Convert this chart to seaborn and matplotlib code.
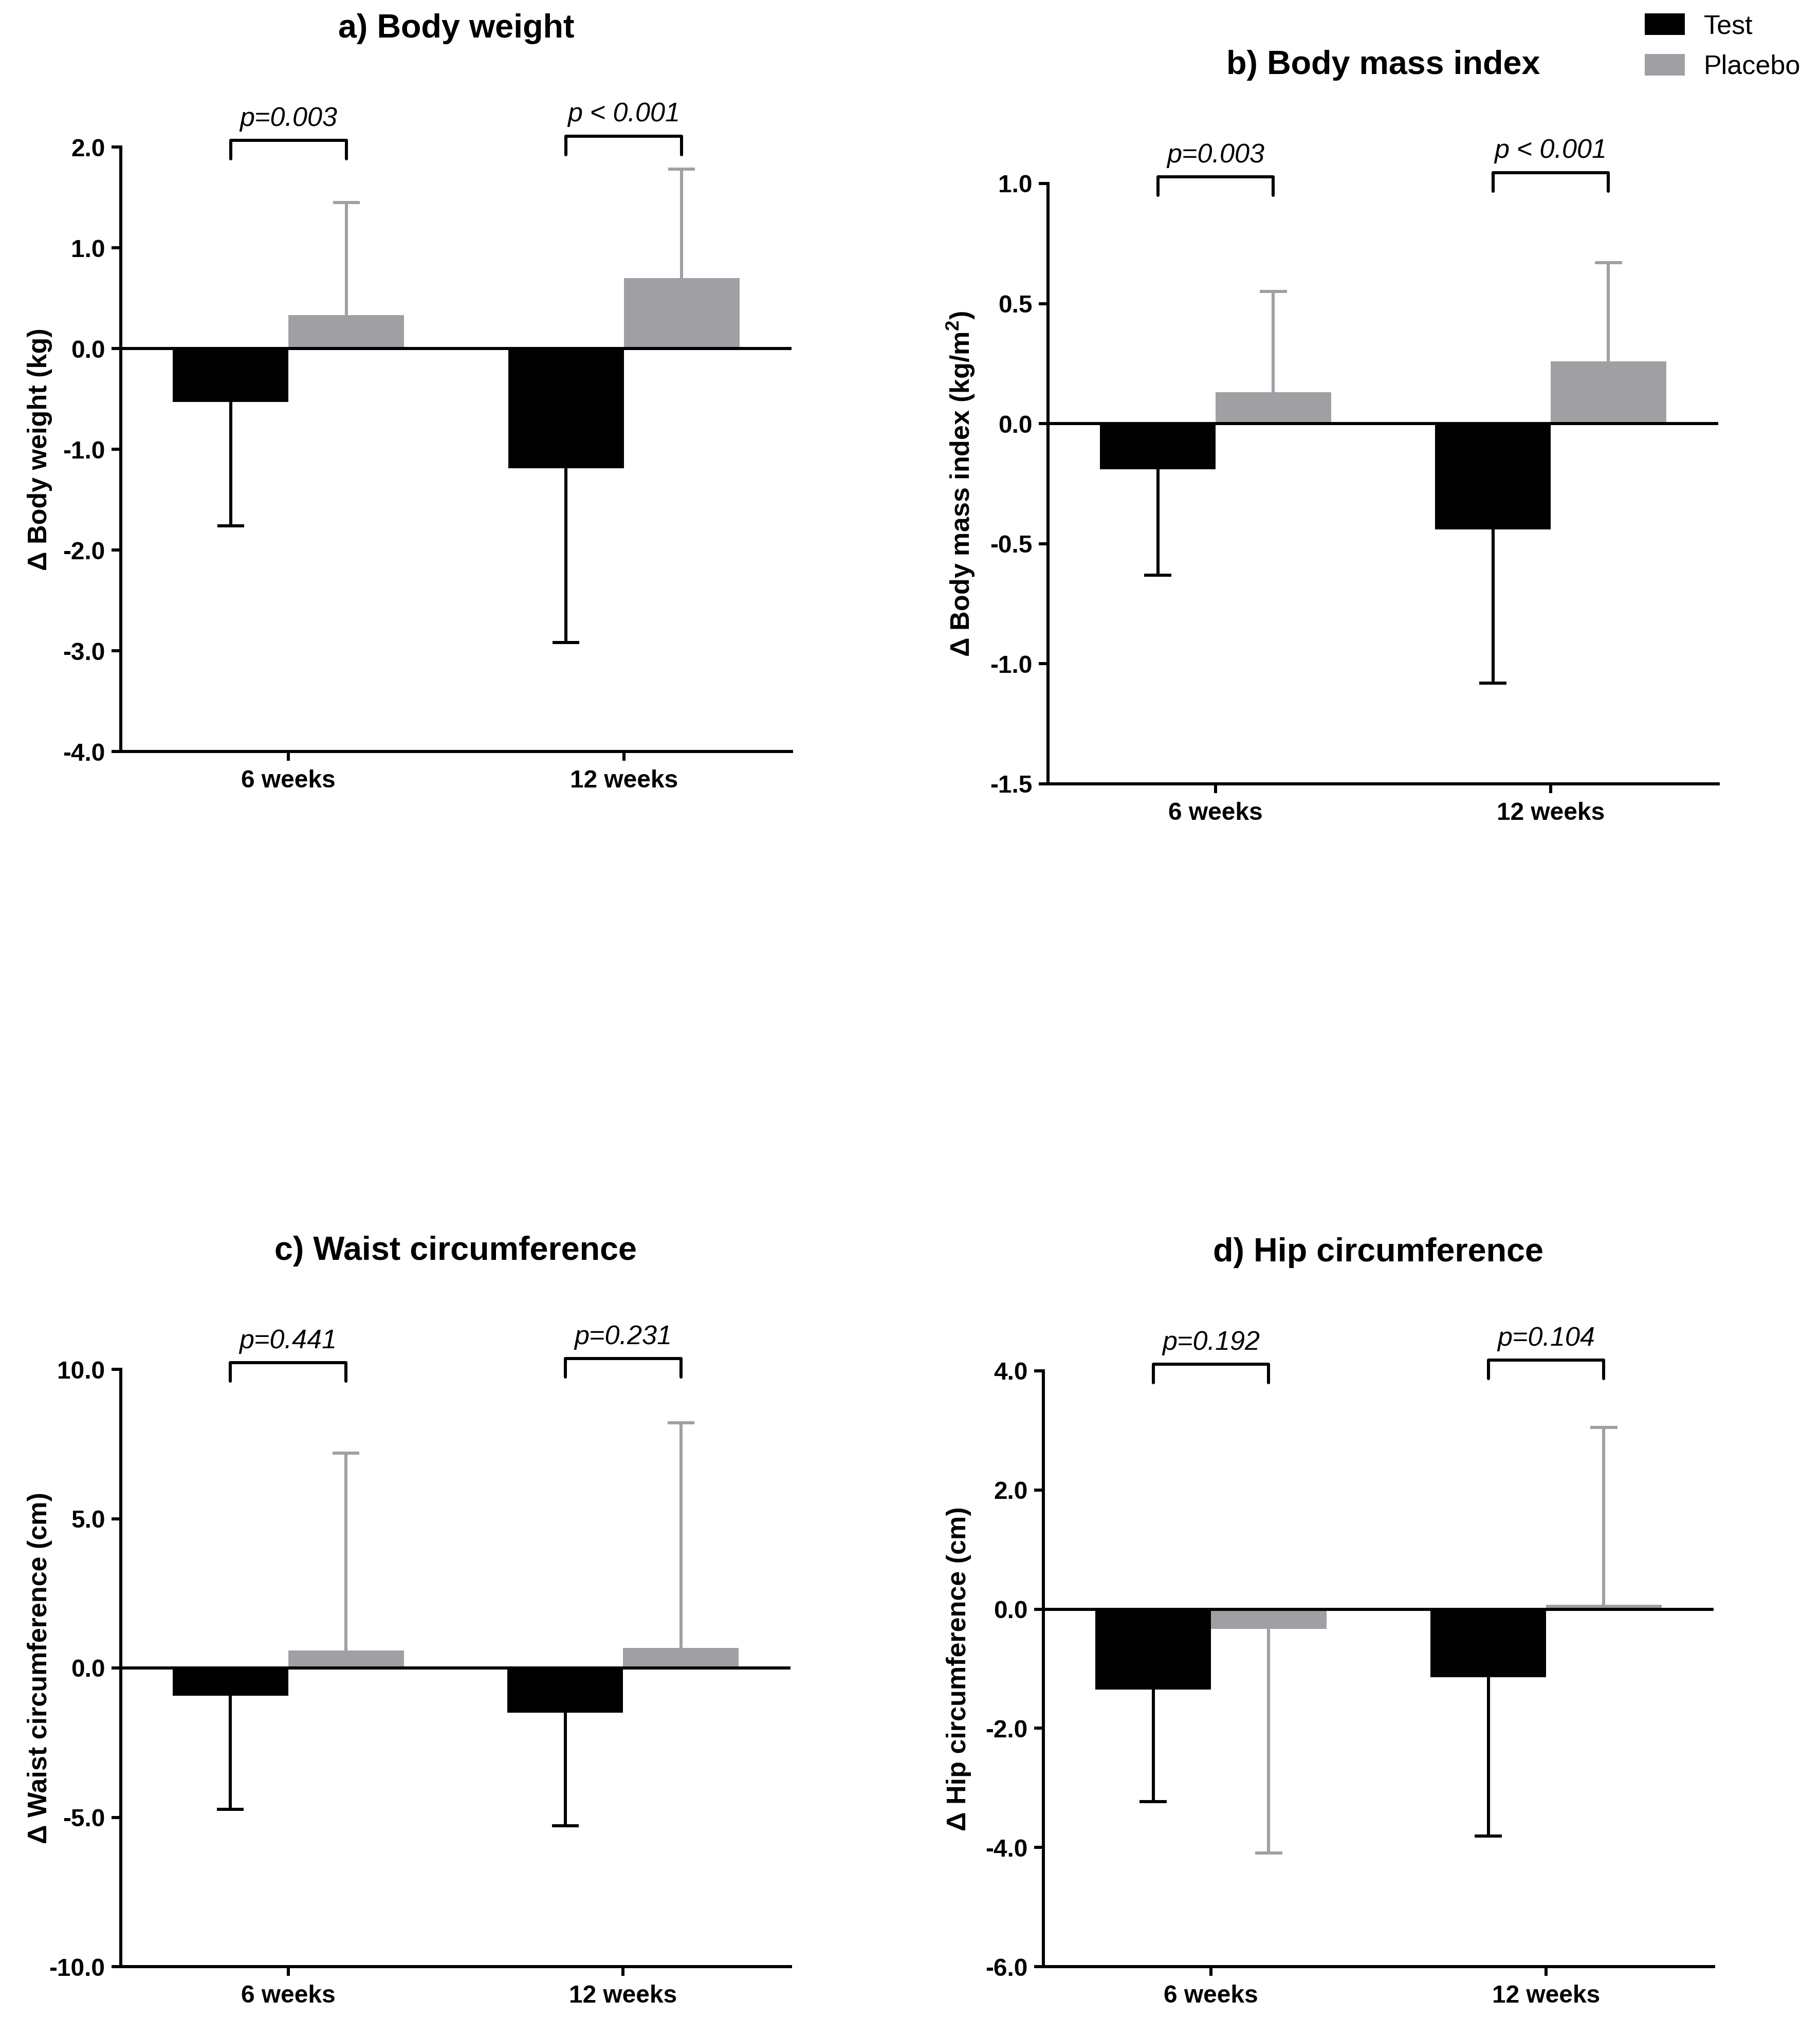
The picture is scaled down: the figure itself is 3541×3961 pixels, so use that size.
import numpy as np
import pandas as pd
import matplotlib
matplotlib.use("Agg")
import matplotlib.pyplot as plt
import matplotlib.transforms as mtransforms
from matplotlib.patches import Patch
import seaborn as sns

sns.set_style("ticks")
plt.rcParams['font.family'] = ['Liberation Sans', 'DejaVu Sans']
plt.rcParams['mathtext.fontset'] = 'custom'
plt.rcParams['mathtext.rm'] = 'Liberation Sans'
plt.rcParams['mathtext.bf'] = 'Liberation Sans:bold'
for k in ['text.color', 'axes.labelcolor', 'xtick.color', 'ytick.color', 'axes.edgecolor']:
    plt.rcParams[k] = 'black'

# data
weeks = ['6 weeks', '12 weeks']
groups = ['Test', 'Placebo']

bw_test = [-0.53, -1.19]
bw_test_sd = [1.23, 1.73]
bw_plac = [0.33, 0.70]
bw_plac_sd = [1.12, 1.08]
bw_p = ['p=0.003', 'p < 0.001']

bmi_test = [-0.19, -0.44]
bmi_test_sd = [0.44, 0.64]
bmi_plac = [0.13, 0.26]
bmi_plac_sd = [0.42, 0.41]
bmi_p = ['p=0.003', 'p < 0.001']

waist_test = [-0.93, -1.49]
waist_test_sd = [3.81, 3.79]
waist_plac = [0.58, 0.67]
waist_plac_sd = [6.61, 7.54]
waist_p = ['p=0.441', 'p=0.231']

hip_test = [-1.35, -1.14]
hip_test_sd = [1.88, 2.67]
hip_plac = [-0.33, 0.07]
hip_plac_sd = [3.76, 2.98]
hip_p = ['p=0.192', 'p=0.104']

BLACK = '#000000'
GRAY = '#a0a0a4'
LW = 1.45

W, H = 3541, 3961
fig = plt.figure(figsize=(W / 300, H / 300), dpi=300)


def make_ax(l, t, r, b):
    return fig.add_axes([l / W, 1 - b / H, (r - l) / W, (b - t) / H])


def panel(ax, title, ylabel, test, test_sd, plac, plac_sd, pvals, ylim, step, lab_x):
    df = pd.DataFrame({
        'week': weeks * 2,
        'group': [groups[0]] * 2 + [groups[1]] * 2,
        'value': test + plac,
    })
    sns.barplot(data=df, x='week', y='value', hue='group', order=weeks, hue_order=groups,
                palette=[BLACK, GRAY], saturation=1, width=0.69, errorbar=None,
                linewidth=0, legend=False, ax=ax)
    sds = [test_sd, plac_sd]
    cols = [BLACK, GRAY]
    centers = []
    for gi, cont in enumerate(ax.containers):
        cx = []
        for j, bar in enumerate(cont):
            x = bar.get_x() + bar.get_width() / 2
            m = bar.get_height()
            end = m - sds[gi][j] if m < 0 else m + sds[gi][j]
            ax.vlines(x, m, end, color=cols[gi], lw=LW, zorder=1)
            ax.hlines(end, x - 0.04, x + 0.04, color=cols[gi], lw=LW, zorder=1)
            cx.append(x)
        centers.append(cx)

    ax.axhline(0, color='black', lw=LW, zorder=3)
    ax.set_xlim(-0.5, 1.5)
    ax.set_ylim(*ylim)
    ax.set_yticks(np.arange(ylim[0], ylim[1] + step / 2, step))
    ax.yaxis.set_major_formatter(matplotlib.ticker.FormatStrFormatter('%.1f'))
    ax.set_xlabel('')
    ax.set_ylabel(ylabel, fontsize=12.5, fontweight='bold')
    ax.yaxis.set_label_coords(lab_x, 0.5)
    ax.tick_params(axis='both', direction='out', length=4.3, width=LW, labelsize=11.5, pad=3,
                   colors='black')
    ax.tick_params(axis='x', pad=4)
    for t in ax.get_xticklabels() + ax.get_yticklabels():
        t.set_fontweight('bold')
    sns.despine(ax=ax)
    for s in ['left', 'bottom']:
        ax.spines[s].set_linewidth(LW)
        ax.spines[s].set_color('black')

    h_px = ax.get_position().height * H
    ax.set_title(title, fontsize=15.5, fontweight='bold', y=1 + 230 / h_px, pad=0,
                 va='center')

    trans = mtransforms.blended_transform_factory(ax.transData, ax.transAxes)
    tops = [1.011, 1.018]
    for j in range(2):
        x0, x1 = centers[0][j], centers[1][j]
        top = tops[j]
        leg = top - 36 / h_px
        ax.plot([x0, x0, x1, x1], [leg, top, top, leg], color='black', lw=LW,
                transform=trans, clip_on=False)
        ax.text((x0 + x1) / 2, top + 42 / h_px, pvals[j], transform=trans,
                ha='center', va='center', fontsize=12.5, fontstyle='italic')


ax_a = make_ax(235, 286, 1540, 1462)
ax_b = make_ax(2039, 357, 3343, 1525)
ax_c = make_ax(235, 2664, 1538, 3826)
ax_d = make_ax(2030, 2667, 3334, 3826)

panel(ax_a, 'a) Body weight', 'Δ Body weight (kg)', bw_test, bw_test_sd, bw_plac, bw_plac_sd,
      bw_p, (-4.0, 2.0), 1.0, -133 / 1305)
panel(ax_b, 'b) Body mass index', r'Δ Body mass index (kg/m$^{\mathbf{2}}$)', bmi_test, bmi_test_sd,
      bmi_plac, bmi_plac_sd, bmi_p, (-1.5, 1.0), 0.5, -139 / 1304)
panel(ax_c, 'c) Waist circumference', 'Δ Waist circumference (cm)', waist_test, waist_test_sd,
      waist_plac, waist_plac_sd, waist_p, (-10.0, 10.0), 5.0, -133 / 1303)
panel(ax_d, 'd) Hip circumference', 'Δ Hip circumference (cm)', hip_test, hip_test_sd,
      hip_plac, hip_plac_sd, hip_p, (-6.0, 4.0), 2.0, -140 / 1304)

handles = [Patch(facecolor=BLACK, edgecolor='none'), Patch(facecolor=GRAY, edgecolor='none')]
fig.legend(handles, groups, loc='upper left', bbox_to_anchor=(3200 / W, 1 - 26 / H),
           frameon=False, fontsize=12.5, handlelength=1.5, handleheight=0.87,
           handletextpad=0.7, labelspacing=0.55, borderpad=0, borderaxespad=0)

fig.savefig('out.png', dpi=300, facecolor='white')
